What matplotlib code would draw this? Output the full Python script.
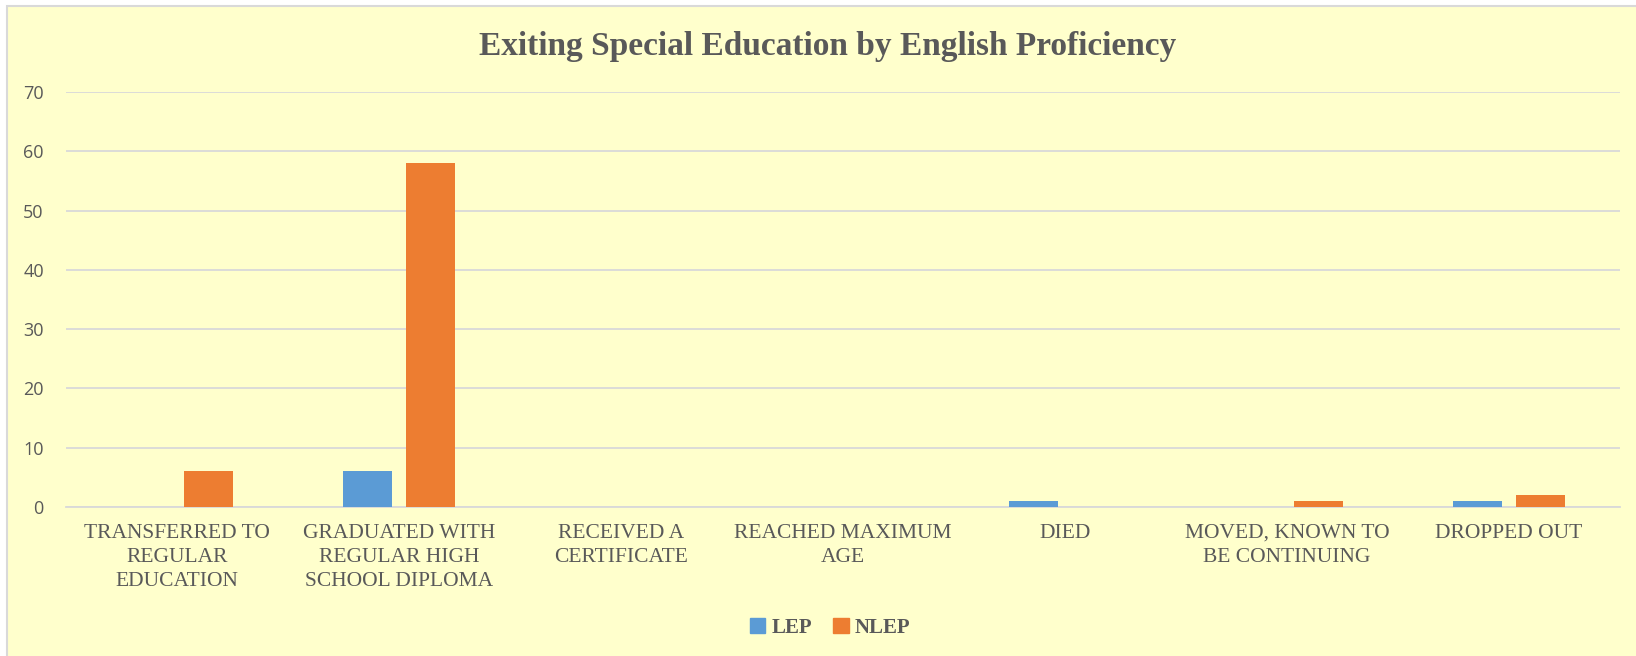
import numpy as np
import matplotlib.pyplot as plt
from matplotlib.patches import Rectangle, Patch

categories = ['TRANSFERRED TO\nREGULAR\nEDUCATION',
              'GRADUATED WITH\nREGULAR HIGH\nSCHOOL DIPLOMA',
              'RECEIVED A\nCERTIFICATE',
              'REACHED MAXIMUM\nAGE',
              'DIED',
              'MOVED, KNOWN TO\nBE CONTINUING',
              'DROPPED OUT']
lep = [0, 6, 0, 0, 1, 0, 1]
nlep = [6, 58, 0, 0, 0, 1, 2]
yticks = np.arange(0, 71, 10)

bg = '#FFFFCC'
txt = '#595959'
serif = ['Liberation Serif', 'DejaVu Serif']

W, H = 1636, 656
fig = plt.figure(figsize=(W/100, H/100), dpi=100)
fig.patch.set_facecolor('white')
# chart area frame (runs off right and bottom edge like the source)
frame = Rectangle((7/W, -0.05), 1, 1.05 - 6/H, transform=fig.transFigure,
                  facecolor=bg, edgecolor='#D9D9D9', linewidth=1.5, zorder=-5)
fig.patches.append(frame)

ax = fig.add_axes([66/W, 1 - 507/H, (1620 - 66)/W, (507 - 92)/H])
ax.set_facecolor('none')

x = np.arange(len(categories))
w = 0.225
off = 0.142
ax.bar(x - off, lep, w, color='#5B9BD5', zorder=3)
ax.bar(x + off, nlep, w, color='#ED7D31', zorder=3)

ax.set_xlim(-0.5, len(categories) - 0.5)
ax.set_ylim(0, 70)
ax.set_yticks(yticks)
ax.grid(axis='y', color='#D9D9D9', linewidth=1.3, zorder=0)
ax.set_axisbelow(True)
for s in ['top', 'right', 'left']:
    ax.spines[s].set_visible(False)
ax.spines['bottom'].set_color('#D9D9D9')
ax.spines['bottom'].set_linewidth(1.3)

ax.set_xticks(x)
ax.set_xticklabels(categories, fontsize=15.5, color=txt, family=serif, linespacing=1.36)
ax.tick_params(axis='x', length=0, pad=12)
ax.tick_params(axis='y', length=0, pad=16, labelsize=13, labelcolor=txt)
for lbl in ax.get_yticklabels():
    lbl.set_family(['Open Sans', 'DejaVu Sans'])

fig.text(828/W, 1 - 47/H, 'Exiting Special Education by English Proficiency',
         ha='center', va='center', fontsize=24, fontweight='bold', color=txt, family=serif)

handles = [Patch(color='#5B9BD5', label='LEP'), Patch(color='#ED7D31', label='NLEP')]
leg = fig.legend(handles=handles, loc='center', bbox_to_anchor=(830/W, 1 - 628/H), ncol=2,
                 frameon=False, handlelength=0.75, handleheight=0.75, handletextpad=0.3,
                 columnspacing=1.0, prop={'family': serif, 'weight': 'bold', 'size': 15})
for t in leg.get_texts():
    t.set_color(txt)

fig.savefig('out.png', dpi=100, facecolor='white')
